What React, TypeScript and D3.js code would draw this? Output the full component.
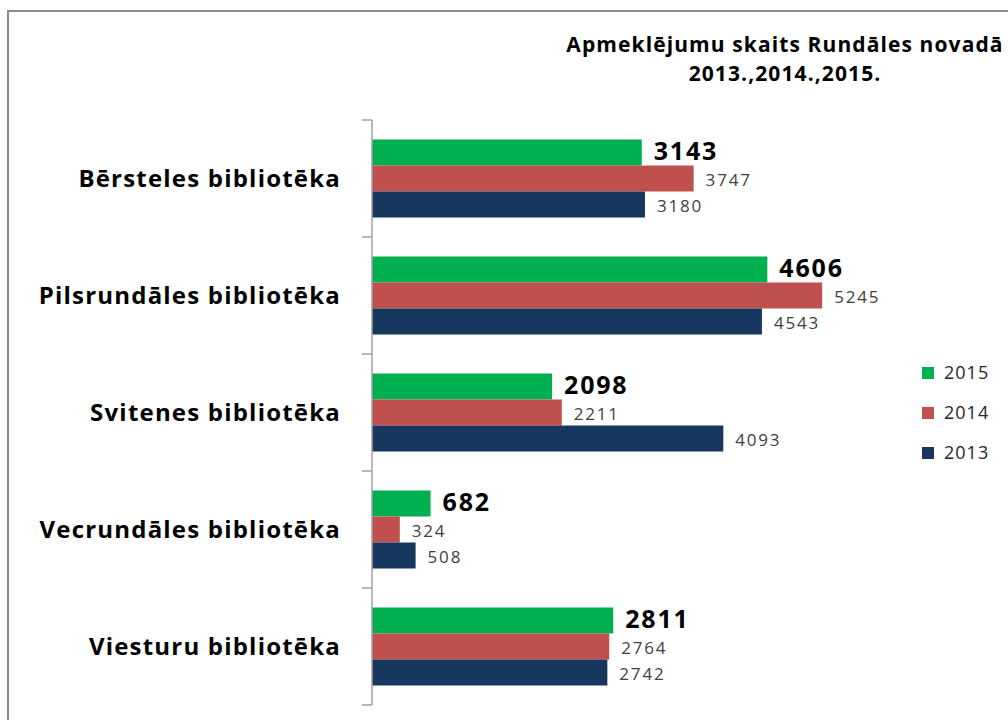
import React from 'react';
import * as d3 from 'd3';

// chart data
const categories = [
  'Bērsteles bibliotēka',
  'Pilsrundāles bibliotēka',
  'Svitenes bibliotēka',
  'Vecrundāles bibliotēka',
  'Viesturu bibliotēka',
];
const seriesNames = ['2015', '2014', '2013'];
const values2015 = [3143, 4606, 2098, 682, 2811];
const values2014 = [3747, 5245, 2211, 324, 2764];
const values2013 = [3180, 4543, 4093, 508, 2742];
const colors = ['#00B050', '#C0504D', '#17375E'];
const titleLines = ['Apmeklējumu skaits Rundāles novadā', '2013.,2014.,2015.'];

const series = [values2015, values2014, values2013];

const W = 1008;
const H = 720;
const font = '"Open Sans", Lato, sans-serif';

export default function App() {
  const plot = { left: 372, right: 887, top: 120, bottom: 705 };

  const x = d3.scaleLinear().domain([0, 6000]).range([plot.left, plot.right]);
  const y = d3.scaleBand<string>().domain(categories).range([plot.top, plot.bottom]).padding(0);
  const inner = d3
    .scaleBand<string>()
    .domain(seriesNames)
    .range([0, y.bandwidth()])
    .paddingOuter(0.75)
    .paddingInner(0);

  const tickYs = [plot.top, ...categories.map((c) => (y(c) as number) + y.bandwidth())];

  return (
    <svg width={W} height={H} style={{ position: 'absolute', left: 0, top: 0, background: '#fff' }}>
      {/* frame */}
      <rect x={8} y={11} width={W} height={H} fill="none" stroke="#8a8a8a" strokeWidth={2} />

      {/* title */}
      {titleLines.map((t, i) => (
        <text
          key={i}
          x={785}
          y={52 + i * 29}
          textAnchor="middle"
          fontFamily={font}
          fontWeight="bold"
          fontSize={21}
          letterSpacing={1.1}
          fill="#000"
        >
          {t}
        </text>
      ))}

      {/* bars */}
      {categories.map((cat, ci) => (
        <g key={cat} transform={`translate(0,${y(cat)})`}>
          {series.map((vals, si) => {
            const by = inner(seriesNames[si]) as number;
            const bh = inner.bandwidth();
            return (
              <rect
                key={si}
                x={x(0)}
                y={by}
                width={x(vals[ci]) - x(0)}
                height={bh}
                fill={colors[si]}
              />
            );
          })}
          {series.map((vals, si) => {
            const by = inner(seriesNames[si]) as number;
            const bh = inner.bandwidth();
            const bold = si === 0;
            return (
              <text
                key={'l' + si}
                x={x(vals[ci]) + 12}
                y={by + bh / 2 + (bold ? -1 : 2)}
                dy="0.35em"
                fontFamily={font}
                fontWeight={bold ? 'bold' : 'normal'}
                fontSize={bold ? 25 : 17}
                letterSpacing={bold ? 1.8 : 1.8}
                fill={bold ? '#000' : '#404040'}
              >
                {vals[ci]}
              </text>
            );
          })}
          <text
            x={plot.left - 31}
            y={y.bandwidth() / 2}
            dy="0.35em"
            textAnchor="end"
            fontFamily={font}
            fontWeight="bold"
            fontSize={24}
            letterSpacing={1.2}
            fill="#000"
          >
            {cat}
          </text>
        </g>
      ))}

      {/* axis */}
      <line x1={plot.left} x2={plot.left} y1={plot.top} y2={plot.bottom} stroke="#a0a0a0" strokeWidth={1.5} />
      {tickYs.map((t, i) => (
        <line key={i} x1={plot.left - 10} x2={plot.left} y1={t} y2={t} stroke="#a0a0a0" strokeWidth={1.5} />
      ))}

      {/* legend */}
      {seriesNames.map((s, i) => (
        <g key={s} transform={`translate(922,${373 + i * 40})`}>
          <rect x={0} y={-6} width={12} height={12} fill={colors[i]} />
          <text x={22} y={0} dy="0.35em" fontFamily={font} fontSize={18} letterSpacing={1} fill="#262626">
            {s}
          </text>
        </g>
      ))}
    </svg>
  );
}
